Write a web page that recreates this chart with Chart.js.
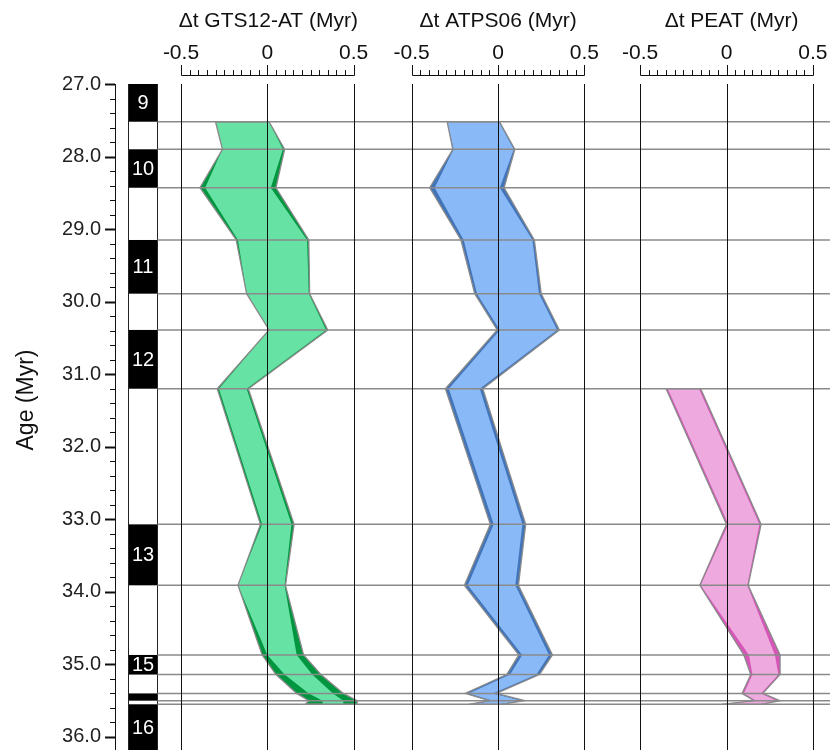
<!DOCTYPE html>
<html>
<head>
<meta charset="utf-8">
<script src="https://cdn.jsdelivr.net/npm/chart.js@4.4.1/dist/chart.umd.min.js"></script>
<style>
  html, body { margin: 0; padding: 0; background: #fff; }
  #wrap { width: 830px; height: 750px; }
</style>
</head>
<body>
<div id="wrap"><canvas id="chart" width="830" height="750"></canvas></div>
<script>
/* age offsets, three panels sharing one age axis */
const FONT = '"Liberation Sans", Arial, Helvetica, sans-serif';

// ages (Myr) of the band vertices = chron boundaries
const ages = [27.52, 27.90, 28.43, 29.15, 29.89, 30.39, 31.20, 33.07, 33.91, 34.87, 35.14, 35.40, 35.50, 35.55];
const peatAges = [31.20, 33.07, 33.91, 34.87, 35.14, 35.40, 35.50, 35.55];

// Δt GTS12-AT
const gtsLightLeft  = [-0.30, -0.26, -0.36, -0.17, -0.12, 0.01, -0.28, -0.03, -0.17, 0.00, 0.10, 0.24, 0.32, 0.32];
const gtsLightRight = [0.01, 0.09, 0.02, 0.23, 0.24, 0.34, -0.12, 0.14, 0.10, 0.17, 0.26, 0.38, 0.44, 0.44];
const gtsDarkLeft   = [-0.30, -0.26, -0.39, -0.18, -0.12, 0.01, -0.29, -0.04, -0.17, -0.03, 0.05, 0.17, 0.24, 0.22];
const gtsDarkRight  = [0.01, 0.10, 0.05, 0.24, 0.245, 0.35, -0.11, 0.155, 0.105, 0.21, 0.31, 0.44, 0.52, 0.52];

// Δt ATPS06
const atpsLightLeft  = [-0.295, -0.257, -0.367, -0.199, -0.122, 0.01, -0.285, -0.025, -0.175, 0.14, 0.07, -0.17, -0.03, -0.15];
const atpsLightRight = [0.004, 0.091, 0.01, 0.199, 0.237, 0.342, -0.106, 0.141, 0.10, 0.295, 0.222, -0.03, 0.135, 0.0];
const atpsDarkLeft   = [-0.295, -0.262, -0.396, -0.215, -0.135, -0.005, -0.305, -0.045, -0.195, 0.12, 0.05, -0.19, -0.05, -0.17];
const atpsDarkRight  = [0.008, 0.097, 0.035, 0.21, 0.25, 0.355, -0.088, 0.16, 0.118, 0.315, 0.24, -0.01, 0.155, 0.02];

// Δt PEAT
const peatLightLeft  = [-0.34, 0.01, -0.15, 0.13, 0.15, 0.10, 0.17, -0.02];
const peatLightRight = [-0.16, 0.19, 0.12, 0.28, 0.30, 0.20, 0.29, 0.19];
const peatDarkLeft   = [-0.35, 0.00, -0.155, 0.10, 0.14, 0.09, 0.16, -0.03];
const peatDarkRight  = [-0.15, 0.20, 0.125, 0.31, 0.31, 0.21, 0.31, 0.20];

// magnetic polarity chrons (black = normal)
const chronTops  = [27.0, 27.90, 29.15, 30.39, 33.07, 34.87, 35.40, 35.55];
const chronBases = [27.52, 28.43, 29.89, 31.20, 33.91, 35.14, 35.50, 36.5];
const chronNames = ["9", "10", "11", "12", "13", "15", "", "16"];
const boundaryAges = [27.52, 27.90, 28.43, 29.15, 29.89, 30.39, 31.20, 33.07, 33.91, 34.87, 35.14, 35.40, 35.50, 35.55];

const panelTitles = ["\u0394t GTS12-AT (Myr)", "\u0394t ATPS06 (Myr)", "\u0394t PEAT (Myr)"];
const xTickValues = [-0.5, 0, 0.5];
const xTickLabels = ["-0.5", "0", "0.5"];
const yTickValues = [27, 28, 29, 30, 31, 32, 33, 34, 35, 36];

// layout
const PANEL_OFFSETS = [0, 1.336, 2.659];
const TITLE_NUDGE = [1, 0, 5];
const X_MIN = -0.882, X_MAX = 3.258;
const Y_MIN = 27, Y_MAX = 36.18;
const CHRON_X = [-0.807, -0.639];
const AXIS_Y = 75;

const COLORS = [
  { light: "#66e2a4", dark: "#00963f" },
  { light: "#8ab9f7", dark: "#4274b9" },
  { light: "#eeaadf", dark: "#d656b8" },
];
const OUTLINE = "#8a8a8a";

function polygon(ag, left, right, off) {
  const pts = ag.map((a, i) => ({ x: left[i] + off, y: a }));
  for (let i = ag.length - 1; i >= 0; i--) pts.push({ x: right[i] + off, y: ag[i] });
  pts.push(pts[0]);
  return pts;
}

const bands = [
  [ages, gtsLightLeft, gtsLightRight, gtsDarkLeft, gtsDarkRight],
  [ages, atpsLightLeft, atpsLightRight, atpsDarkLeft, atpsDarkRight],
  [peatAges, peatLightLeft, peatLightRight, peatDarkLeft, peatDarkRight],
];

const datasets = [];
bands.forEach(([ag, lL, lR, dL, dR], p) => {
  const off = PANEL_OFFSETS[p];
  const dark = polygon(ag, dL, dR, off);
  const base = { showLine: true, tension: 0, pointRadius: 0, pointHoverRadius: 0 };
  datasets.push({ ...base, data: dark, fill: "shape", backgroundColor: COLORS[p].dark,
    borderColor: "rgba(0,0,0,0)", borderWidth: 1, order: 3 });
  datasets.push({ ...base, data: polygon(ag, lL, lR, off), fill: "shape", backgroundColor: COLORS[p].light,
    borderColor: "rgba(0,0,0,0)", borderWidth: 1, order: 2 });
  datasets.push({ ...base, data: dark, fill: false, borderColor: OUTLINE, borderWidth: 1.3, order: 1 });
});

const decor = {
  id: "decor",
  beforeDatasetsDraw(chart) {
    const { ctx, chartArea: a, scales: { x, y } } = chart;
    const cx0 = Math.round(x.getPixelForValue(CHRON_X[0])) + 0.5;
    const cx1 = Math.round(x.getPixelForValue(CHRON_X[1])) + 0.5;
    ctx.save();
    ctx.textAlign = "center";
    ctx.textBaseline = "middle";
    ctx.font = "20px " + FONT;
    chronTops.forEach((t, i) => {
      const y0 = y.getPixelForValue(t);
      const y1 = Math.min(y.getPixelForValue(chronBases[i]), a.bottom);
      ctx.fillStyle = "#000";
      ctx.fillRect(cx0, y0, cx1 - cx0, y1 - y0);
      if (chronNames[i]) {
        ctx.fillStyle = "#fff";
        ctx.fillText(chronNames[i], (cx0 + cx1) / 2, (y0 + y1) / 2 + 1);
      }
    });
    ctx.strokeStyle = "#222";
    ctx.lineWidth = 1;
    [cx0, cx1].forEach((px) => {
      ctx.beginPath(); ctx.moveTo(px, a.top); ctx.lineTo(px, a.bottom); ctx.stroke();
    });
    ctx.restore();
  },
  afterDatasetsDraw(chart) {
    const { ctx, chartArea: a, scales: { x, y } } = chart;
    const cx1 = Math.round(x.getPixelForValue(CHRON_X[1])) + 0.5;
    ctx.save();
    // chron boundary lines
    ctx.strokeStyle = OUTLINE;
    ctx.lineWidth = 1.5;
    boundaryAges.forEach((b) => {
      const py = y.getPixelForValue(b);
      ctx.beginPath(); ctx.moveTo(cx1, py); ctx.lineTo(a.right, py); ctx.stroke();
    });
    // panel verticals + top axes
    ctx.lineWidth = 1;
    PANEL_OFFSETS.forEach((off, p) => {
      ctx.strokeStyle = "#111";
      xTickValues.forEach((v) => {
        const px = Math.round(x.getPixelForValue(v + off)) + 0.5;
        ctx.beginPath(); ctx.moveTo(px, a.top); ctx.lineTo(px, a.bottom); ctx.stroke();
      });
      const l = Math.round(x.getPixelForValue(-0.5 + off)) + 0.5;
      const r = Math.round(x.getPixelForValue(0.5 + off)) + 0.5;
      ctx.beginPath(); ctx.moveTo(l, AXIS_Y + 0.5); ctx.lineTo(r, AXIS_Y + 0.5); ctx.stroke();
      for (let k = -10; k <= 10; k++) {
        const px = Math.round(x.getPixelForValue(k * 0.05 + off)) + 0.5;
        const len = k % 10 === 0 ? 10 : 5;
        ctx.beginPath(); ctx.moveTo(px, AXIS_Y + 0.5); ctx.lineTo(px, AXIS_Y - len); ctx.stroke();
      }
      ctx.fillStyle = "#111";
      ctx.textAlign = "center";
      ctx.textBaseline = "middle";
      ctx.font = "21px " + FONT;
      xTickValues.forEach((v, i) => ctx.fillText(xTickLabels[i], x.getPixelForValue(v + off), 53));
      ctx.font = "21px " + FONT;
      ctx.fillText(panelTitles[p], x.getPixelForValue(off) + TITLE_NUDGE[p], 21);
    });
    // age axis ticks
    ctx.strokeStyle = "#111";
    for (let i = 0; i <= 45; i++) {
      const py = Math.round(y.getPixelForValue(Y_MIN + i * 0.2)) + 0.5;
      const major = i % 5 === 0;
      ctx.lineWidth = major ? 2 : 1;
      ctx.beginPath(); ctx.moveTo(a.left - (major ? 10 : 5), py); ctx.lineTo(a.left, py); ctx.stroke();
    }
    ctx.translate(27, 400);
    ctx.rotate(-Math.PI / 2);
    ctx.fillStyle = "#111";
    ctx.font = "23px " + FONT;
    ctx.textAlign = "center";
    ctx.textBaseline = "middle";
    ctx.fillText("Age (Myr)", 0, 0);
    ctx.restore();
  },
};

new Chart(document.getElementById("chart"), {
  type: "scatter",
  data: { datasets },
  options: {
    responsive: false,
    animation: false,
    layout: { padding: { top: 84, right: 0, bottom: 0, left: 0 } },
    plugins: { legend: { display: false }, tooltip: { enabled: false } },
    scales: {
      x: { type: "linear", min: X_MIN, max: X_MAX, display: false },
      y: {
        type: "linear", reverse: true, min: Y_MIN, max: Y_MAX, position: "left",
        afterBuildTicks: (s) => { s.ticks = yTickValues.map((v) => ({ value: v })); },
        afterFit: (s) => { s.width = 115; s.paddingTop = 0; s.paddingBottom = 0; },
        ticks: { callback: (v) => Number(v).toFixed(1), padding: 14, color: "#222",
          font: { size: 20, family: FONT } },
        grid: { display: false, drawTicks: false },
        border: { display: true, color: "#111", width: 1 },
      },
    },
  },
  plugins: [decor],
});
</script>
</body>
</html>
